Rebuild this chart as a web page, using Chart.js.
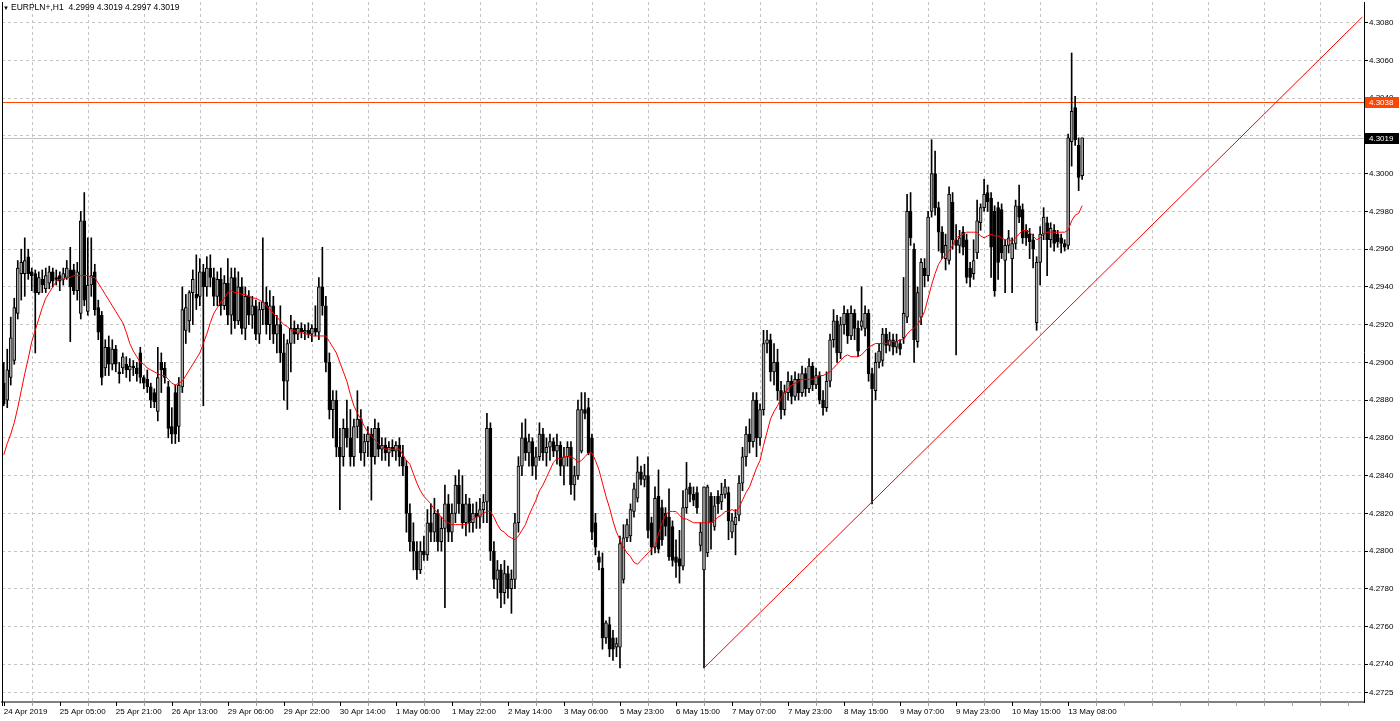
<!DOCTYPE html>
<html>
<head>
<meta charset="utf-8">
<script src="https://cdn.jsdelivr.net/npm/chart.js@4.4.1/dist/chart.umd.min.js"></script>
<style>
  html, body { margin: 0; padding: 0; background: #fff; }
  #wrap { width: 1400px; height: 721px; }
</style>
</head>
<body>
<div id="wrap"><canvas id="chart"></canvas></div>
<script>
var symbolTitle = 'EURPLN+,H1  4.2999 4.3019 4.2997 4.3019';

// one label every 16 hourly bars
var timeLabels = ['24 Apr 2019', '25 Apr 05:00', '25 Apr 21:00', '26 Apr 13:00', '29 Apr 06:00',
  '29 Apr 22:00', '30 Apr 14:00', '1 May 06:00', '1 May 22:00', '2 May 14:00', '3 May 06:00',
  '5 May 23:00', '6 May 15:00', '7 May 07:00', '7 May 23:00', '8 May 15:00', '9 May 07:00',
  '9 May 23:00', '10 May 15:00', '13 May 08:00'];
var barsPerLabel = 16;
var slotCount = 389; // bars plus the empty shift on the right

var opens = [
  4.2889, 4.2880, 4.2892, 4.2901, 4.2926, 4.2947, 4.2947, 4.2956, 4.2948, 4.2947,
  4.2937, 4.2944, 4.2939, 4.2942, 4.2948, 4.2945, 4.2946, 4.2944, 4.2945, 4.2949,
  4.2949, 4.2938, 4.2926, 4.2975, 4.2927, 4.2941, 4.2948, 4.2929, 4.2925, 4.2897,
  4.2908, 4.2899, 4.2907, 4.2895, 4.2897, 4.2899, 4.2896, 4.2898, 4.2897, 4.2905,
  4.2892, 4.2891, 4.2887, 4.2884, 4.2874, 4.2900, 4.2897, 4.2887, 4.2866, 4.2884,
  4.2866, 4.2887, 4.2917, 4.2922, 4.2937, 4.2936, 4.2935, 4.2948, 4.2940, 4.2950,
  4.2945, 4.2935, 4.2944, 4.2930, 4.2942, 4.2925, 4.2945, 4.2922, 4.2940, 4.2918,
  4.2935, 4.2925, 4.2930, 4.2915, 4.2928, 4.2932, 4.2920, 4.2930, 4.2915, 4.2920,
  4.2905, 4.2890, 4.2910, 4.2918, 4.2915, 4.2918, 4.2916, 4.2917, 4.2915, 4.2918,
  4.2916, 4.2940, 4.2930, 4.2900, 4.2875, 4.2880, 4.2855, 4.2850, 4.2865, 4.2860,
  4.2850, 4.2866, 4.2870, 4.2852, 4.2858, 4.2862, 4.2850, 4.2865, 4.2854, 4.2856,
  4.2852, 4.2855, 4.2853, 4.2856, 4.2850, 4.2845, 4.2820, 4.2805, 4.2800, 4.2790,
  4.2800, 4.2798, 4.2815, 4.2810, 4.2820, 4.2805, 4.2812, 4.2825, 4.2810, 4.2820,
  4.2835, 4.2825, 4.2815, 4.2825, 4.2815, 4.2820, 4.2818, 4.2822, 4.2826, 4.2865,
  4.2800, 4.2785, 4.2790, 4.2778, 4.2788, 4.2780, 4.2785, 4.2815, 4.2845, 4.2860,
  4.2852, 4.2858, 4.2845, 4.2850, 4.2862, 4.2852, 4.2855, 4.2858, 4.2853, 4.2856,
  4.2845, 4.2850, 4.2855, 4.2835, 4.2840, 4.2853, 4.2875, 4.2876, 4.2860, 4.2815,
  4.2797, 4.2791, 4.2754, 4.2761, 4.2754, 4.2749, 4.2749, 4.2785, 4.2807, 4.2808,
  4.2821, 4.2828, 4.2842, 4.2838, 4.2840, 4.2815, 4.2802, 4.2829, 4.2823, 4.2820,
  4.2818, 4.2813, 4.2797, 4.2796, 4.2792, 4.2823, 4.2834, 4.2830, 4.2831, 4.2803,
  4.2790, 4.2799, 4.2829, 4.2813, 4.2829, 4.2826, 4.2830, 4.2831, 4.2810, 4.2814,
  4.2819, 4.2836, 4.2850, 4.2862, 4.2858, 4.2880, 4.2860, 4.2875, 4.2910, 4.2912,
  4.2895, 4.2900, 4.2885, 4.2875, 4.2884, 4.2890, 4.2882, 4.2891, 4.2884, 4.2894,
  4.2886, 4.2898, 4.2888, 4.2893, 4.2880, 4.2876, 4.2890, 4.2912, 4.2922, 4.2905,
  4.2920, 4.2926, 4.2914, 4.2926, 4.2918, 4.2919, 4.2918, 4.2926, 4.2894, 4.2885,
  4.2900, 4.2901, 4.2915, 4.2909, 4.2912, 4.2908, 4.2910, 4.2913, 4.2924, 4.2980,
  4.2960, 4.2911, 4.2924, 4.2950, 4.2946, 4.2980, 4.3000, 4.2982, 4.2969, 4.2955,
  4.2954, 4.2985, 4.2965, 4.2962, 4.2969, 4.2965, 4.2950, 4.2947, 4.2958, 4.2974,
  4.2982, 4.2990, 4.2987, 4.2980, 4.2982, 4.2981, 4.2954, 4.2962, 4.2955, 4.2963,
  4.2983, 4.2981, 4.2970, 4.2968, 4.2965, 4.2921, 4.2953, 4.2968, 4.2974, 4.2965,
  4.2970, 4.2968, 4.2966, 4.2963, 4.2962, 4.3017, 4.3035, 4.3015, 4.2999
];
var highs = [
  4.2900, 4.2907, 4.2924, 4.2934, 4.2954, 4.2960, 4.2966, 4.2960, 4.2950, 4.2949,
  4.2948, 4.2949, 4.2950, 4.2951, 4.2950, 4.2949, 4.2948, 4.2950, 4.2954, 4.2961,
  4.2952, 4.2953, 4.2980, 4.2990, 4.2966, 4.2966, 4.2952, 4.2933, 4.2927, 4.2912,
  4.2914, 4.2912, 4.2909, 4.2900, 4.2905, 4.2903, 4.2902, 4.2901, 4.2900, 4.2908,
  4.2893, 4.2896, 4.2889, 4.2886, 4.2908, 4.2905, 4.2900, 4.2890, 4.2876, 4.2888,
  4.2892, 4.2940, 4.2936, 4.2938, 4.2949, 4.2957, 4.2955, 4.2952, 4.2956, 4.2957,
  4.2950, 4.2948, 4.2950, 4.2946, 4.2955, 4.2950, 4.2950, 4.2948, 4.2945, 4.2940,
  4.2938, 4.2935, 4.2933, 4.2932, 4.2966, 4.2940, 4.2938, 4.2935, 4.2925, 4.2930,
  4.2915, 4.2912, 4.2925, 4.2922, 4.2920, 4.2921, 4.2920, 4.2921, 4.2920, 4.2930,
  4.2945, 4.2961, 4.2935, 4.2905, 4.2885, 4.2885, 4.2865, 4.2870, 4.2880, 4.2875,
  4.2870, 4.2885, 4.2875, 4.2862, 4.2866, 4.2865, 4.2870, 4.2868, 4.2860, 4.2860,
  4.2858, 4.2859, 4.2858, 4.2860, 4.2856, 4.2848, 4.2825, 4.2815, 4.2805, 4.2805,
  4.2808, 4.2822, 4.2825, 4.2828, 4.2822, 4.2818, 4.2835, 4.2830, 4.2825, 4.2840,
  4.2843, 4.2840, 4.2830, 4.2828, 4.2825, 4.2826, 4.2828, 4.2830, 4.2873, 4.2868,
  4.2805, 4.2795, 4.2793, 4.2795, 4.2792, 4.2790, 4.2820, 4.2850, 4.2868, 4.2870,
  4.2862, 4.2860, 4.2855, 4.2868, 4.2865, 4.2860, 4.2862, 4.2860, 4.2862, 4.2858,
  4.2855, 4.2858, 4.2858, 4.2845, 4.2880, 4.2884, 4.2884, 4.2881, 4.2862, 4.2820,
  4.2800, 4.2799, 4.2763, 4.2765, 4.2758, 4.2754, 4.2808, 4.2814, 4.2817, 4.2825,
  4.2836, 4.2850, 4.2845, 4.2846, 4.2850, 4.2818, 4.2834, 4.2843, 4.2827, 4.2823,
  4.2833, 4.2816, 4.2806, 4.2811, 4.2832, 4.2847, 4.2836, 4.2834, 4.2834, 4.2815,
  4.2834, 4.2835, 4.2831, 4.2829, 4.2832, 4.2836, 4.2838, 4.2834, 4.2820, 4.2822,
  4.2840, 4.2855, 4.2866, 4.2870, 4.2884, 4.2884, 4.2878, 4.2917, 4.2917, 4.2915,
  4.2910, 4.2907, 4.2890, 4.2888, 4.2895, 4.2893, 4.2895, 4.2894, 4.2898, 4.2897,
  4.2902, 4.2900, 4.2897, 4.2895, 4.2885, 4.2895, 4.2915, 4.2928, 4.2925, 4.2924,
  4.2930, 4.2928, 4.2930, 4.2928, 4.2922, 4.2940, 4.2930, 4.2928, 4.2897, 4.2905,
  4.2910, 4.2918, 4.2918, 4.2916, 4.2915, 4.2915, 4.2912, 4.2945, 4.2989, 4.2990,
  4.2963, 4.2940, 4.2955, 4.2955, 4.2980, 4.3018, 4.3012, 4.2985, 4.2972, 4.2968,
  4.2993, 4.2990, 4.2973, 4.2970, 4.2972, 4.2968, 4.2953, 4.2965, 4.2986, 4.2984,
  4.2997, 4.2994, 4.2990, 4.2983, 4.2985, 4.2984, 4.2965, 4.2970, 4.2966, 4.2986,
  4.2994, 4.2984, 4.2973, 4.2971, 4.2968, 4.2956, 4.2972, 4.2982, 4.2977, 4.2974,
  4.2973, 4.2970, 4.2968, 4.2965, 4.3021, 4.3064, 4.3041, 4.3019, 4.3019
];
var lows = [
  4.2877, 4.2876, 4.2888, 4.2899, 4.2923, 4.2933, 4.2935, 4.2944, 4.2938, 4.2905,
  4.2936, 4.2937, 4.2937, 4.2939, 4.2940, 4.2941, 4.2938, 4.2941, 4.2944, 4.2911,
  4.2936, 4.2933, 4.2923, 4.2930, 4.2925, 4.2935, 4.2925, 4.2912, 4.2888, 4.2893,
  4.2893, 4.2896, 4.2895, 4.2889, 4.2894, 4.2892, 4.2890, 4.2893, 4.2890, 4.2889,
  4.2886, 4.2884, 4.2876, 4.2876, 4.2869, 4.2884, 4.2889, 4.2860, 4.2857, 4.2857,
  4.2858, 4.2884, 4.2910, 4.2916, 4.2920, 4.2928, 4.2930, 4.2877, 4.2935, 4.2940,
  4.2930, 4.2930, 4.2925, 4.2928, 4.2920, 4.2915, 4.2918, 4.2920, 4.2915, 4.2912,
  4.2920, 4.2918, 4.2912, 4.2910, 4.2920, 4.2915, 4.2912, 4.2910, 4.2905, 4.2900,
  4.2880, 4.2875, 4.2895, 4.2910, 4.2912, 4.2913, 4.2912, 4.2913, 4.2911, 4.2914,
  4.2912, 4.2925, 4.2895, 4.2870, 4.2860, 4.2850, 4.2822, 4.2845, 4.2855, 4.2845,
  4.2845, 4.2860, 4.2848, 4.2845, 4.2850, 4.2827, 4.2846, 4.2850, 4.2848, 4.2848,
  4.2845, 4.2850, 4.2848, 4.2845, 4.2840, 4.2810, 4.2800, 4.2790, 4.2785, 4.2788,
  4.2795, 4.2795, 4.2805, 4.2805, 4.2800, 4.2800, 4.2770, 4.2805, 4.2805, 4.2815,
  4.2820, 4.2812, 4.2808, 4.2810, 4.2810, 4.2812, 4.2812, 4.2815, 4.2815, 4.2795,
  4.2780, 4.2775, 4.2770, 4.2772, 4.2775, 4.2767, 4.2780, 4.2810, 4.2840, 4.2848,
  4.2845, 4.2840, 4.2838, 4.2848, 4.2848, 4.2845, 4.2848, 4.2850, 4.2846, 4.2840,
  4.2835, 4.2845, 4.2830, 4.2827, 4.2838, 4.2852, 4.2870, 4.2851, 4.2806, 4.2798,
  4.2790, 4.2748, 4.2751, 4.2744, 4.2742, 4.2744, 4.2738, 4.2783, 4.2805, 4.2805,
  4.2818, 4.2826, 4.2835, 4.2834, 4.2807, 4.2798, 4.2799, 4.2799, 4.2803, 4.2808,
  4.2795, 4.2792, 4.2786, 4.2783, 4.2790, 4.2820, 4.2826, 4.2824, 4.2820, 4.2800,
  4.2738, 4.2797, 4.2801, 4.2811, 4.2820, 4.2822, 4.2828, 4.2806, 4.2807, 4.2798,
  4.2816, 4.2832, 4.2845, 4.2852, 4.2855, 4.2850, 4.2856, 4.2872, 4.2905, 4.2890,
  4.2888, 4.2880, 4.2870, 4.2872, 4.2880, 4.2878, 4.2880, 4.2880, 4.2882, 4.2882,
  4.2884, 4.2885, 4.2886, 4.2878, 4.2872, 4.2874, 4.2887, 4.2908, 4.2900, 4.2902,
  4.2915, 4.2910, 4.2912, 4.2912, 4.2903, 4.2917, 4.2914, 4.2890, 4.2825, 4.2880,
  4.2897, 4.2898, 4.2905, 4.2906, 4.2904, 4.2905, 4.2904, 4.2910, 4.2921, 4.2962,
  4.2900, 4.2908, 4.2920, 4.2940, 4.2943, 4.2977, 4.2978, 4.2959, 4.2955, 4.2949,
  4.2952, 4.2960, 4.2904, 4.2958, 4.2957, 4.2942, 4.2940, 4.2944, 4.2955, 4.2970,
  4.2980, 4.2980, 4.2945, 4.2935, 4.2944, 4.2955, 4.2937, 4.2958, 4.2937, 4.2960,
  4.2974, 4.2963, 4.2962, 4.2955, 4.2950, 4.2917, 4.2941, 4.2965, 4.2946, 4.2961,
  4.2959, 4.2961, 4.2958, 4.2959, 4.2960, 4.3004, 4.3015, 4.2991, 4.2997
];
var closes = [
  4.2878, 4.2896, 4.2913, 4.2929, 4.2950, 4.2953, 4.2954, 4.2947, 4.2946, 4.2937,
  4.2945, 4.2941, 4.2946, 4.2948, 4.2943, 4.2944, 4.2943, 4.2947, 4.2950, 4.2940,
  4.2938, 4.2948, 4.2975, 4.2933, 4.2941, 4.2946, 4.2928, 4.2916, 4.2892, 4.2908,
  4.2899, 4.2907, 4.2899, 4.2894, 4.2903, 4.2896, 4.2898, 4.2897, 4.2894, 4.2892,
  4.2889, 4.2887, 4.2880, 4.2879, 4.2892, 4.2896, 4.2892, 4.2865, 4.2862, 4.2862,
  4.2888, 4.2928, 4.2929, 4.2937, 4.2944, 4.2934, 4.2948, 4.2940, 4.2950, 4.2945,
  4.2935, 4.2944, 4.2930, 4.2942, 4.2925, 4.2945, 4.2922, 4.2940, 4.2918, 4.2935,
  4.2925, 4.2930, 4.2915, 4.2928, 4.2932, 4.2920, 4.2930, 4.2915, 4.2920, 4.2905,
  4.2890, 4.2910, 4.2918, 4.2915, 4.2918, 4.2916, 4.2917, 4.2915, 4.2918, 4.2916,
  4.2940, 4.2930, 4.2900, 4.2875, 4.2880, 4.2855, 4.2850, 4.2865, 4.2860, 4.2850,
  4.2866, 4.2870, 4.2852, 4.2858, 4.2862, 4.2850, 4.2865, 4.2854, 4.2856, 4.2852,
  4.2855, 4.2853, 4.2856, 4.2850, 4.2845, 4.2820, 4.2805, 4.2800, 4.2790, 4.2800,
  4.2798, 4.2815, 4.2810, 4.2820, 4.2805, 4.2812, 4.2825, 4.2810, 4.2820, 4.2835,
  4.2825, 4.2815, 4.2825, 4.2815, 4.2820, 4.2818, 4.2822, 4.2826, 4.2865, 4.2800,
  4.2785, 4.2790, 4.2778, 4.2788, 4.2780, 4.2785, 4.2815, 4.2845, 4.2860, 4.2852,
  4.2858, 4.2845, 4.2850, 4.2862, 4.2852, 4.2855, 4.2858, 4.2853, 4.2856, 4.2845,
  4.2850, 4.2855, 4.2835, 4.2840, 4.2875, 4.2875, 4.2873, 4.2852, 4.2810, 4.2802,
  4.2794, 4.2754, 4.2762, 4.2748, 4.2748, 4.2751, 4.2804, 4.2807, 4.2814, 4.2822,
  4.2833, 4.2842, 4.2838, 4.2840, 4.2811, 4.2802, 4.2828, 4.2801, 4.2806, 4.2813,
  4.2797, 4.2795, 4.2794, 4.2792, 4.2823, 4.2833, 4.2830, 4.2827, 4.2823, 4.2810,
  4.2834, 4.2834, 4.2815, 4.2824, 4.2825, 4.2830, 4.2834, 4.2816, 4.2816, 4.2818,
  4.2836, 4.2850, 4.2862, 4.2858, 4.2880, 4.2860, 4.2875, 4.2910, 4.2912, 4.2895,
  4.2900, 4.2885, 4.2875, 4.2884, 4.2890, 4.2882, 4.2891, 4.2884, 4.2894, 4.2886,
  4.2898, 4.2888, 4.2893, 4.2880, 4.2876, 4.2890, 4.2912, 4.2922, 4.2905, 4.2920,
  4.2926, 4.2914, 4.2926, 4.2918, 4.2906, 4.2922, 4.2926, 4.2894, 4.2886, 4.2900,
  4.2906, 4.2915, 4.2909, 4.2912, 4.2908, 4.2911, 4.2907, 4.2926, 4.2980, 4.2966,
  4.2912, 4.2937, 4.2953, 4.2946, 4.2977, 4.3000, 4.2982, 4.2969, 4.2958, 4.2962,
  4.2989, 4.2965, 4.2962, 4.2966, 4.2961, 4.2945, 4.2945, 4.2954, 4.2975, 4.2982,
  4.2989, 4.2985, 4.2961, 4.2938, 4.2953, 4.2958, 4.2962, 4.2966, 4.2963, 4.2983,
  4.2977, 4.2966, 4.2966, 4.2964, 4.2960, 4.2953, 4.2968, 4.2977, 4.2965, 4.2971,
  4.2963, 4.2964, 4.2963, 4.2961, 4.3019, 4.3033, 4.3018, 4.2998, 4.3019
];
// red moving average
var maValues = [
  4.2851, 4.2857, 4.2862, 4.2868, 4.2876, 4.2885, 4.2894, 4.2902, 4.2911, 4.2917,
  4.2923, 4.2929, 4.2934, 4.2937, 4.2940, 4.2943, 4.2944, 4.2944, 4.2945, 4.2945,
  4.2946, 4.2946, 4.2946, 4.2946, 4.2946, 4.2945, 4.2945, 4.2942, 4.2939, 4.2936,
  4.2933, 4.2930, 4.2927, 4.2924, 4.2921, 4.2916, 4.2910, 4.2906, 4.2903, 4.2900,
  4.2899, 4.2897, 4.2896, 4.2895, 4.2894, 4.2893, 4.2893, 4.2891, 4.2889, 4.2888,
  4.2889, 4.2890, 4.2893, 4.2896, 4.2899, 4.2902, 4.2905, 4.2910, 4.2915, 4.2921,
  4.2926, 4.2929, 4.2932, 4.2934, 4.2937, 4.2938, 4.2937, 4.2937, 4.2936, 4.2936,
  4.2935, 4.2934, 4.2934, 4.2933, 4.2932, 4.2930, 4.2928, 4.2926, 4.2924, 4.2922,
  4.2920, 4.2919, 4.2917, 4.2917, 4.2916, 4.2916, 4.2915, 4.2915, 4.2914, 4.2914,
  4.2914, 4.2914, 4.2914, 4.2911, 4.2908, 4.2905, 4.2900, 4.2895, 4.2890, 4.2883,
  4.2877, 4.2873, 4.2870, 4.2866, 4.2863, 4.2861, 4.2859, 4.2857, 4.2855, 4.2854,
  4.2854, 4.2854, 4.2854, 4.2854, 4.2851, 4.2848, 4.2846, 4.2841, 4.2836, 4.2832,
  4.2829, 4.2827, 4.2825, 4.2822, 4.2820, 4.2818, 4.2816, 4.2815, 4.2814, 4.2814,
  4.2814, 4.2814, 4.2814, 4.2815, 4.2817, 4.2818, 4.2819, 4.2820, 4.2821, 4.2821,
  4.2818, 4.2814, 4.2811, 4.2810, 4.2808, 4.2807, 4.2806, 4.2808, 4.2811, 4.2814,
  4.2819, 4.2823, 4.2827, 4.2832, 4.2835, 4.2839, 4.2843, 4.2847, 4.2849, 4.2849,
  4.2850, 4.2850, 4.2850, 4.2849, 4.2847, 4.2848, 4.2850, 4.2852, 4.2852, 4.2848,
  4.2843, 4.2836, 4.2829, 4.2823, 4.2816, 4.2810, 4.2806, 4.2802, 4.2799, 4.2797,
  4.2794, 4.2793, 4.2795, 4.2797, 4.2799, 4.2801, 4.2803, 4.2809, 4.2815, 4.2819,
  4.2821, 4.2821, 4.2821, 4.2819, 4.2817, 4.2817, 4.2816, 4.2815, 4.2815, 4.2815,
  4.2815, 4.2815, 4.2815, 4.2816, 4.2818, 4.2819, 4.2821, 4.2821, 4.2822, 4.2821,
  4.2823, 4.2827, 4.2831, 4.2834, 4.2839, 4.2844, 4.2848, 4.2856, 4.2863, 4.2870,
  4.2874, 4.2877, 4.2881, 4.2884, 4.2886, 4.2888, 4.2889, 4.2890, 4.2891, 4.2891,
  4.2891, 4.2891, 4.2892, 4.2893, 4.2893, 4.2894, 4.2895, 4.2897, 4.2899, 4.2901,
  4.2903, 4.2904, 4.2903, 4.2903, 4.2903, 4.2904, 4.2906, 4.2908, 4.2909, 4.2910,
  4.2910, 4.2910, 4.2910, 4.2911, 4.2911, 4.2911, 4.2912, 4.2912, 4.2915, 4.2917,
  4.2918, 4.2920, 4.2923, 4.2927, 4.2934, 4.2941, 4.2947, 4.2952, 4.2955, 4.2957,
  4.2959, 4.2962, 4.2966, 4.2967, 4.2968, 4.2969, 4.2969, 4.2969, 4.2969, 4.2967,
  4.2966, 4.2967, 4.2968, 4.2967, 4.2967, 4.2966, 4.2965, 4.2965, 4.2964, 4.2966,
  4.2968, 4.2970, 4.2970, 4.2969, 4.2967, 4.2965, 4.2966, 4.2968, 4.2969, 4.2969,
  4.2969, 4.2969, 4.2969, 4.2969, 4.2970, 4.2975, 4.2978, 4.2979, 4.2983
];

var yTicks = [4.2725, 4.2740, 4.2760, 4.2780, 4.2800, 4.2820, 4.2840, 4.2860, 4.2880, 4.2900,
  4.2920, 4.2940, 4.2960, 4.2980, 4.3000, 4.3020, 4.3040, 4.3060, 4.3080];
var yMin = 4.2720;
var yMax = 4.3091;

var trendStart = { bar: 200, price: 4.2738 };
var trendEnd = { bar: 388, price: 4.3083 };
var markedLevel = 4.3038;  // horizontal line object
var bidLevel = 4.3019;     // current bid

var FONT = '"Liberation Sans", Arial, sans-serif';
var bullFill = '#a8a8a8';
var bearFill = '#000000';
var gridColor = '#c4c4c4';

var slots = [];
for (var i = 0; i < slotCount; i++) slots.push(i);

var wickData = slots.map(function(i) {
  return i < highs.length ? [lows[i], highs[i]] : null;
});
var bodyData = slots.map(function(i) {
  return i < opens.length ? [opens[i], closes[i]] : null;
});
var bodyColors = slots.map(function(i) {
  return i < opens.length && closes[i] < opens[i] ? bearFill : bullFill;
});
var maData = slots.map(function(i) {
  return i < maValues.length ? maValues[i] : null;
});
var trendData = slots.map(function(i) {
  if (i === trendStart.bar) return trendStart.price;
  if (i === trendEnd.bar) return trendEnd.price;
  return null;
});

var chartDecor = {
  id: 'chartDecor',
  beforeDraw: function(chart) {
    var ctx = chart.ctx;
    ctx.save();
    ctx.fillStyle = '#ffffff';
    ctx.fillRect(0, 0, chart.width, chart.height);
    ctx.restore();
  },
  beforeDatasetsDraw: function(chart) {
    var ctx = chart.ctx, area = chart.chartArea, y = chart.scales.y, x = chart.scales.x;
    ctx.save();
    ctx.lineWidth = 1;

    // vertical dashed grid, halfway between time labels
    ctx.strokeStyle = gridColor;
    ctx.setLineDash([3, 3]);
    for (var i = barsPerLabel / 2; i < slotCount; i += barsPerLabel) {
      var gx = Math.round(x.getPixelForValue(i)) + 0.5;
      ctx.beginPath(); ctx.moveTo(gx, area.top); ctx.lineTo(gx, area.bottom); ctx.stroke();
    }
    ctx.setLineDash([]);

    // tick marks under the time axis
    for (var j = 0; j < slotCount; j += barsPerLabel / 2) {
      var tx = Math.round(x.getPixelForValue(j)) + 0.5;
      var major = j % barsPerLabel === 0 && j / barsPerLabel < timeLabels.length;
      ctx.strokeStyle = major ? '#000000' : '#a0a0a0';
      ctx.beginPath(); ctx.moveTo(tx, area.bottom); ctx.lineTo(tx, area.bottom + 4); ctx.stroke();
    }

    // bid and marked price lines
    ctx.strokeStyle = '#c0c0c0';
    var yb = Math.round(y.getPixelForValue(bidLevel)) + 0.5;
    ctx.beginPath(); ctx.moveTo(area.left, yb); ctx.lineTo(area.right, yb); ctx.stroke();
    ctx.strokeStyle = '#ff4500';
    var ym = Math.round(y.getPixelForValue(markedLevel)) + 0.5;
    ctx.beginPath(); ctx.moveTo(area.left, ym); ctx.lineTo(area.right, ym); ctx.stroke();
    ctx.restore();
  },
  afterDraw: function(chart) {
    var ctx = chart.ctx, area = chart.chartArea, y = chart.scales.y;
    ctx.save();
    // left frame
    ctx.strokeStyle = '#000';
    ctx.lineWidth = 1;
    ctx.beginPath(); ctx.moveTo(area.left + 0.5, area.top); ctx.lineTo(area.left + 0.5, area.bottom + 4); ctx.stroke();

    // price tags on the axis
    function tag(price, bg) {
      var py = Math.round(y.getPixelForValue(price));
      ctx.fillStyle = bg;
      ctx.fillRect(area.right + 1, py - 5, 34, 11);
      ctx.fillStyle = '#ffffff';
      ctx.font = '8px ' + FONT;
      ctx.textAlign = 'left';
      ctx.textBaseline = 'middle';
      ctx.fillText(price.toFixed(4), area.right + 5, py + 0.5);
    }
    tag(markedLevel, '#ff4500');
    tag(bidLevel, '#000000');

    // symbol line
    ctx.fillStyle = '#000';
    ctx.textBaseline = 'middle';
    ctx.textAlign = 'left';
    ctx.font = '6px ' + FONT;
    ctx.fillText('\u25BC', 3, 8);
    ctx.font = '8.5px ' + FONT;
    ctx.fillText(symbolTitle, 11, 8);
    ctx.restore();
  }
};

var config = {
  type: 'bar',
  data: {
    labels: slots,
    datasets: [
      {
        type: 'line',
        data: trendData,
        borderColor: '#ff0000',
        borderWidth: 1,
        pointRadius: 0,
        spanGaps: true,
        order: 0
      },
      {
        type: 'line',
        data: maData,
        borderColor: '#ff0000',
        borderWidth: 1,
        pointRadius: 0,
        tension: 0,
        order: 1
      },
      {
        data: bodyData,
        backgroundColor: bodyColors,
        borderColor: '#000000',
        borderWidth: 1,
        borderSkipped: false,
        barThickness: 3,
        minBarLength: 1,
        grouped: false,
        order: 2
      },
      {
        data: wickData,
        backgroundColor: '#000000',
        borderWidth: 0,
        barThickness: 1,
        grouped: false,
        order: 3
      }
    ]
  },
  options: {
    responsive: true,
    maintainAspectRatio: false,
    animation: false,
    events: [],
    layout: { padding: { left: 2, top: 2, right: 0, bottom: 0 } },
    plugins: {
      legend: { display: false },
      tooltip: { enabled: false },
      title: { display: false }
    },
    scales: {
      x: {
        type: 'category',
        offset: true,
        afterFit: function(scale) {
          scale.height = 19;
          scale.paddingLeft = 0;
          scale.paddingRight = 0;
        },
        grid: { display: false, drawOnChartArea: false, drawTicks: false },
        border: { display: true, color: '#808080', width: 2 },
        ticks: {
          autoSkip: false,
          maxRotation: 0,
          minRotation: 0,
          align: 'start',
          padding: 5,
          color: '#000000',
          font: { family: FONT, size: 8 },
          callback: function(value) {
            if (value % barsPerLabel === 0 && value / barsPerLabel < timeLabels.length) {
              return timeLabels[value / barsPerLabel];
            }
            return null;
          }
        }
      },
      y: {
        position: 'right',
        min: yMin,
        max: yMax,
        afterBuildTicks: function(scale) {
          scale.ticks = yTicks.map(function(v) { return { value: v }; });
        },
        afterFit: function(scale) {
          scale.width = 36;
          scale.paddingTop = 0;
          scale.paddingBottom = 0;
        },
        grid: {
          color: gridColor,
          lineWidth: 1,
          tickColor: '#000000',
          tickLength: 4,
          tickBorderDash: []
        },
        border: { display: true, color: '#000000', width: 1, dash: [3, 3] },
        ticks: {
          autoSkip: false,
          padding: 1,
          color: '#000000',
          font: { family: FONT, size: 8 },
          callback: function(value) { return Number(value).toFixed(4); }
        }
      }
    }
  },
  plugins: [chartDecor]
};

window.onload = function() {
  var ctx = document.getElementById('chart').getContext('2d');
  window.myChart = new Chart(ctx, config);
};
</script>
</body>
</html>
